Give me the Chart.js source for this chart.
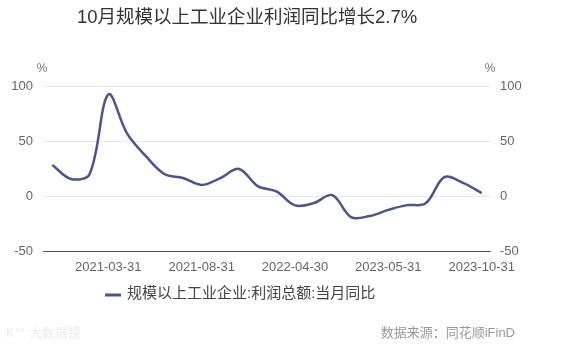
<!DOCTYPE html>
<html>
<head>
<meta charset="utf-8">
<script src="https://cdn.jsdelivr.net/npm/chart.js@4"></script>
<style>
  html, body { margin: 0; padding: 0; background: #fff; }
  #wrap { position: relative; width: 565px; height: 352px; }
</style>
</head>
<body>
<div id="wrap"><canvas id="ctprofit" width="565" height="352"></canvas></div>
<script>
var months = ["2020-10-31", "2020-11-30", "2020-12-31", "2021-03-31", "2021-04-30", "2021-05-31",
  "2021-06-30", "2021-07-31", "2021-08-31", "2021-09-30", "2021-10-31", "2021-11-30",
  "2021-12-31", "2022-04-30", "2022-05-31", "2022-06-30", "2023-03-31", "2023-04-30",
  "2023-05-31", "2023-06-30", "2023-07-31", "2023-08-31", "2023-09-30", "2023-10-31"];
var profitYoY = [28.2, 15.5, 20.1, 92.3, 57.0, 36.4,
  20.0, 16.4, 10.1, 16.3, 24.6, 9.0,
  4.2, -8.5, -6.5, 0.8, -19.2, -18.2,
  -12.6, -8.3, -6.7, 17.2, 11.9, 2.7];
var yTicks = [-50, 0, 50, 100];
var seriesName = "规模以上工业企业:利润总额:当月同比";
var titleText = "10月规模以上工业企业利润同比增长2.7%";
var sourceText = "数据来源：同花顺iFinD";

var FONT = '"Liberation Sans", "Noto Sans CJK SC", sans-serif';
var lineColor = "#4a5491";

// title, units, legend and footer drawn by hand so they sit where the original has them
var extras = {
  id: "extras",
  afterDraw: function(chart) {
    var ctx = chart.ctx;
    ctx.save();
    ctx.textBaseline = "middle";

    ctx.fillStyle = "#333";
    ctx.font = "18.5px " + FONT;
    ctx.textAlign = "center";
    ctx.fillText(titleText, 247, 18);

    ctx.fillStyle = "#777";
    ctx.font = "12px " + FONT;
    ctx.fillText("%", 42, 69);
    ctx.fillText("%", 490, 69);

    ctx.strokeStyle = lineColor;
    ctx.lineWidth = 3;
    ctx.beginPath();
    ctx.moveTo(105, 295);
    ctx.lineTo(121, 295);
    ctx.stroke();
    ctx.fillStyle = "#444";
    ctx.font = "15px " + FONT;
    ctx.textAlign = "left";
    ctx.fillText(seriesName, 127, 294);

    ctx.fillStyle = "#999";
    ctx.font = "13px " + FONT;
    ctx.textAlign = "right";
    ctx.fillText(sourceText, 515, 333);

    ctx.fillStyle = "#ededed";
    ctx.font = "13px " + FONT;
    ctx.textAlign = "left";
    ctx.fillText("K°° 大数据镜", 6, 333);
    ctx.restore();
  }
};

new Chart("ctprofit", {
  type: "line",
  data: {
    labels: months,
    datasets: [{
      label: seriesName,
      data: profitYoY,
      borderColor: lineColor,
      borderWidth: 2.5,
      pointRadius: 0,
      tension: 0.35,
      yAxisID: "y"
    }]
  },
  options: {
    responsive: false,
    animation: false,
    layout: { padding: { top: 86, bottom: 0, left: 0, right: 0 } },
    plugins: {
      legend: { display: false },
      title: { display: false },
      tooltip: { enabled: false }
    },
    scales: {
      x: {
        offset: true,
        grid: { display: false, drawTicks: false },
        border: { display: false },
        afterFit: function(scale) { scale.height = 101; },
        ticks: {
          autoSkip: false,
          maxRotation: 0,
          padding: 9,
          color: "#666",
          font: { size: 13, family: FONT },
          callback: function(v, i) {
            return (i - 3) % 5 === 0 ? months[i] : "";
          }
        }
      },
      y: {
        position: "left",
        min: -50,
        max: 100,
        afterFit: function(scale) { scale.width = 43; },
        afterBuildTicks: function(scale) {
          scale.ticks = yTicks.map(function(v) { return { value: v }; });
        },
        grid: {
          drawTicks: false,
          lineWidth: 1,
          color: function(c) { return c.tick.value === -50 ? lineColor : "#e6e8f2"; }
        },
        border: { display: false },
        ticks: { padding: 10, color: "#666", font: { size: 13, family: FONT } }
      },
      y1: {
        position: "right",
        min: -50,
        max: 100,
        afterFit: function(scale) { scale.width = 74; },
        afterBuildTicks: function(scale) {
          scale.ticks = yTicks.map(function(v) { return { value: v }; });
        },
        grid: { display: false, drawTicks: false },
        border: { display: false },
        ticks: { padding: 9, color: "#666", font: { size: 13, family: FONT } }
      }
    }
  },
  plugins: [extras]
});
</script>
</body>
</html>
